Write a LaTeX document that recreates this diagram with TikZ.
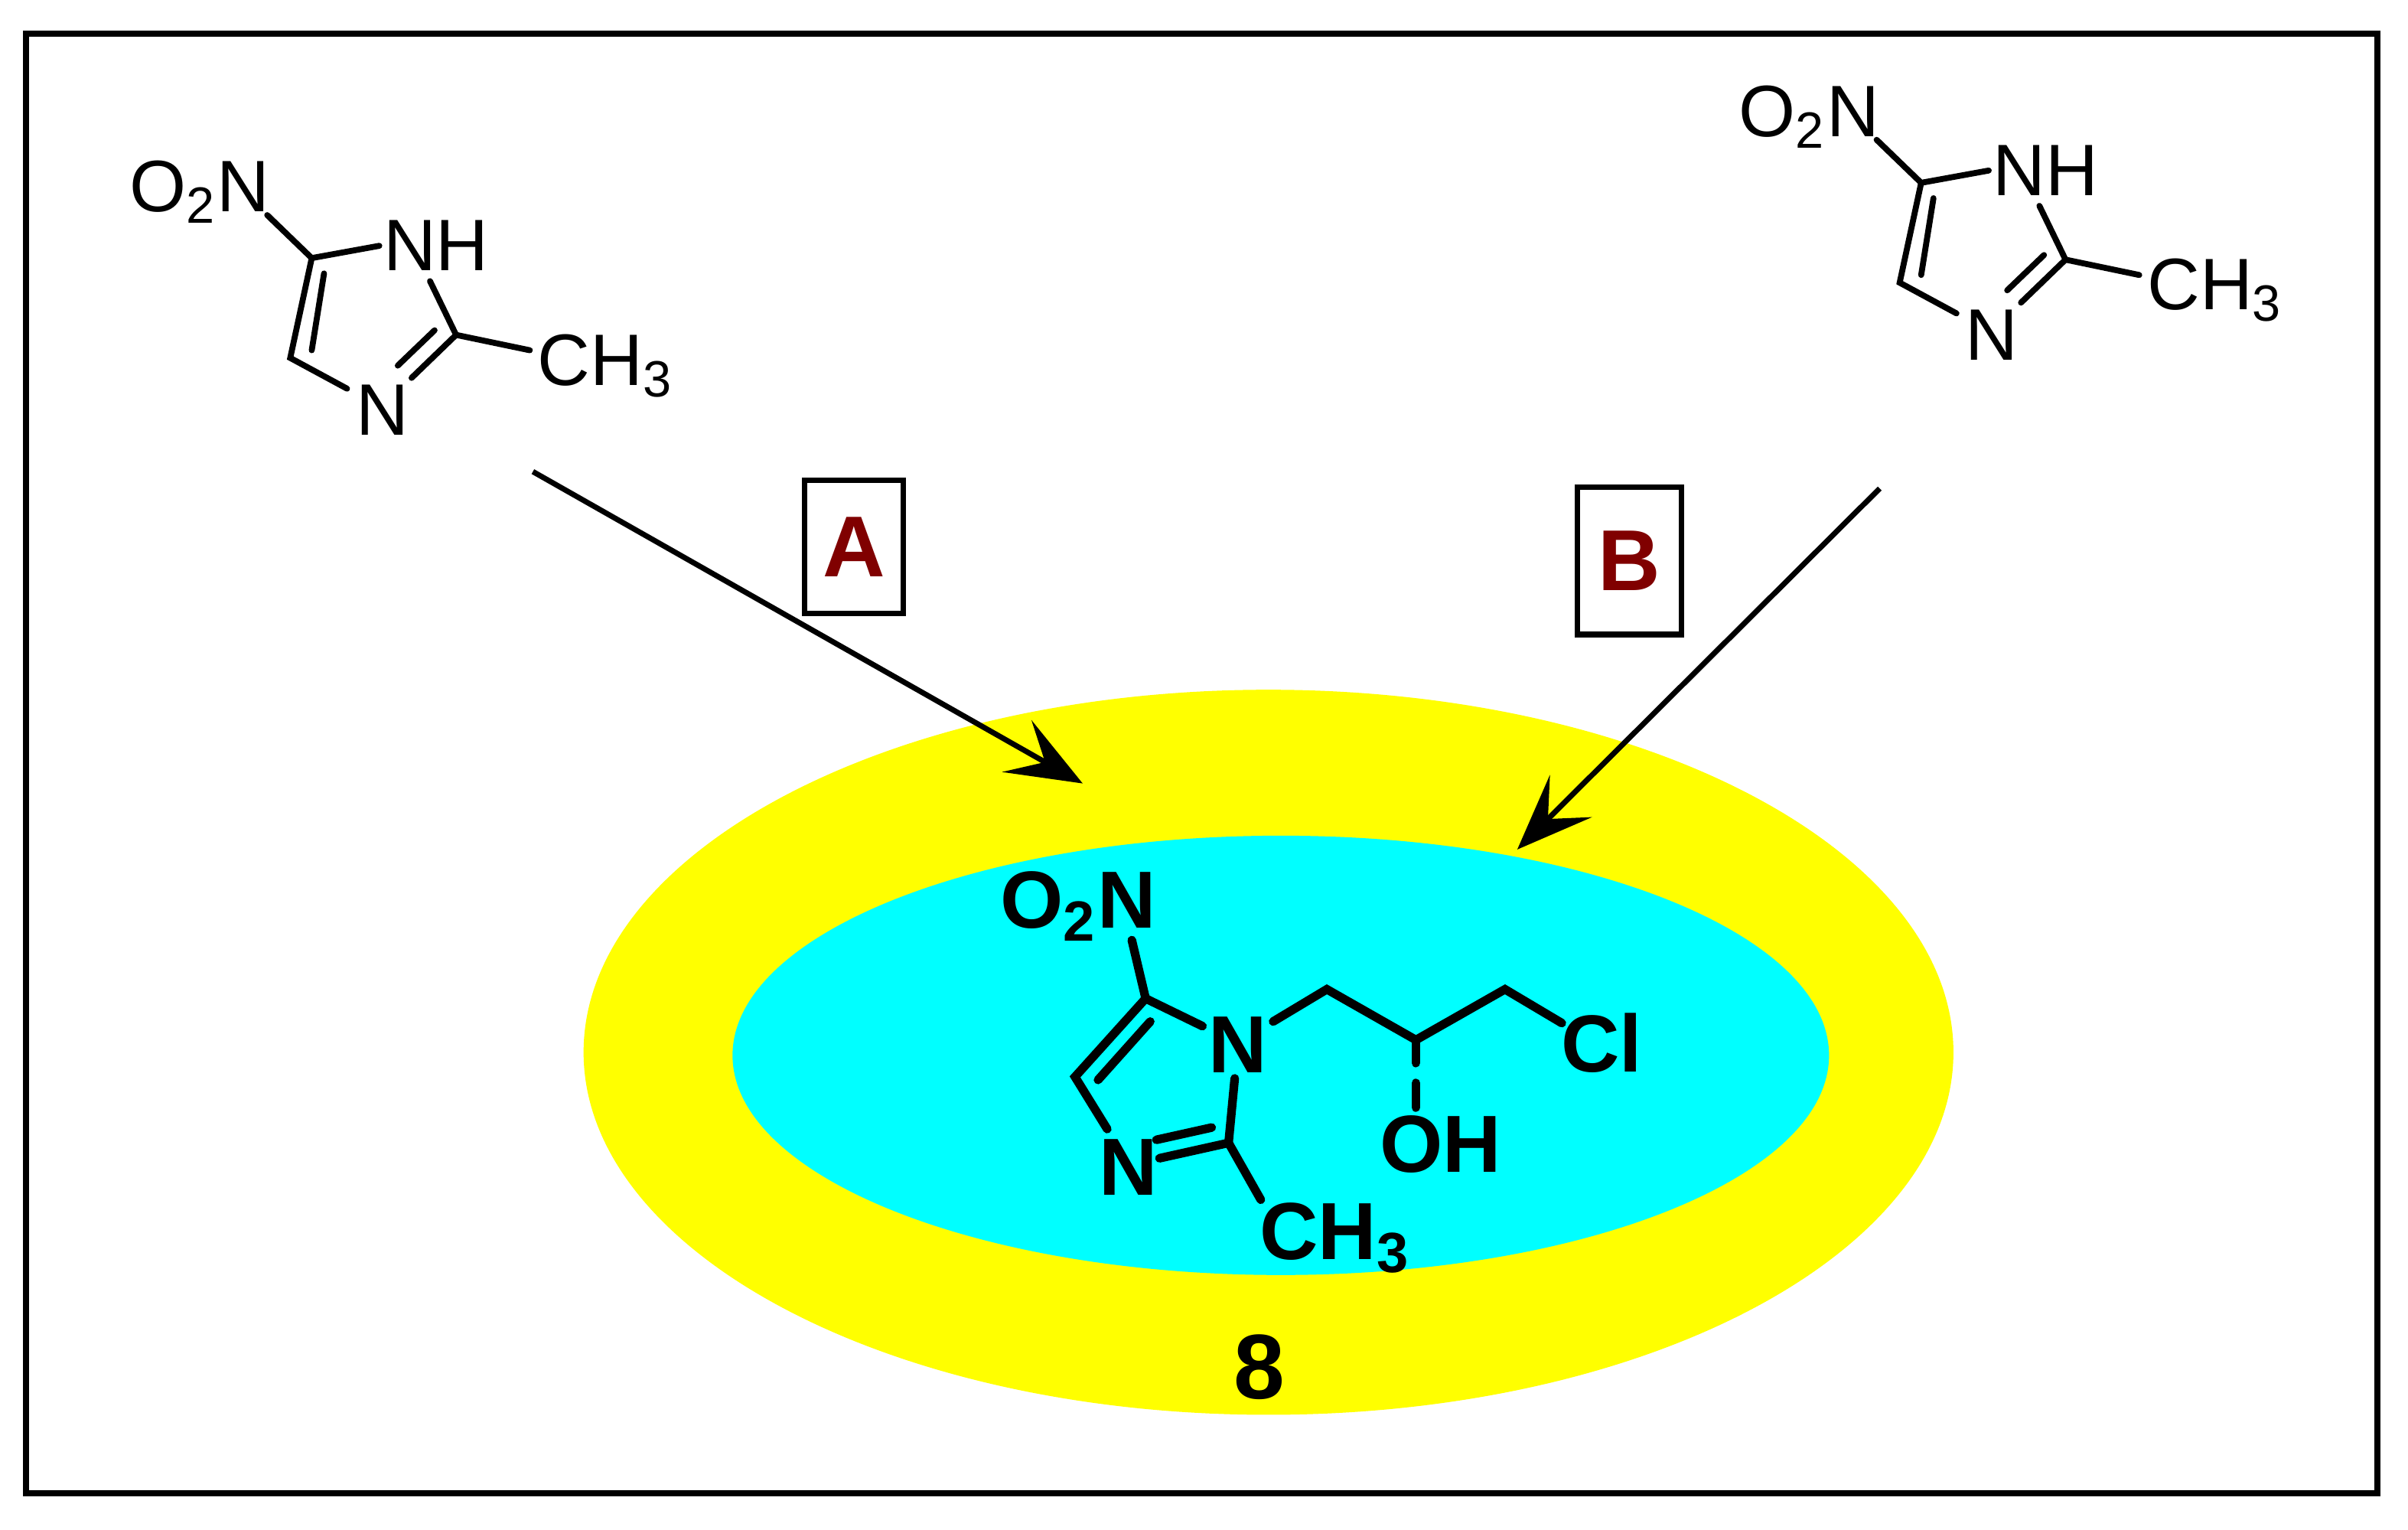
\documentclass[tikz,border=0pt]{standalone}
\usepackage{fontspec}
\setmainfont{Liberation Sans}
\usetikzlibrary{arrows.meta,calc}
\definecolor{ylw}{RGB}{255,255,0}
\definecolor{cyn}{RGB}{0,255,255}
\definecolor{dred}{RGB}{128,0,0}
\begin{document}
\begin{tikzpicture}[x=0.01cm,y=-0.01cm,
 atom/.style={inner sep=1pt,font=\fontsize{13.5}{14}\selectfont},
 batom/.style={inner sep=1pt,font=\fontsize{15}{15}\selectfont\bfseries},
 bond/.style={line width=1.1pt,line cap=round},
 bbond/.style={line width=1.6pt,line cap=round},
 rxn/.style={line width=1pt,-{Stealth[length=14pt,width=11pt,inset=6pt]}},
 lbl/.style={draw,line width=1pt,minimum width=0.5cm,minimum height=0.87cm,font=\fontsize{16}{16}\selectfont\bfseries,text=dred}]
\useasboundingbox (0,0) rectangle (1568,996);
\draw[line width=1.2pt] (17,22) rectangle (1548,972);
\fill[ylw] (826,685) ellipse [x radius=446, y radius=236];
\fill[cyn] (834,687) ellipse [x radius=357, y radius=143];
% reactant molecules
\foreach \sx/\sy/\p in {0/0/l,1048/-49/r}{
\begin{scope}[shift={(\sx,\sy)}]
\node[atom] (\p nh) at (284,160) {NH};
\node[atom] (\p n3) at (249,267) {N};
\node[atom] (\p o2n) at (130,125) {O\textsubscript{2}N};
\node[atom,anchor=west] (\p ch3) at (346,238) {CH\textsubscript{3}};
\coordinate (\p c5) at (203,168); \coordinate (\p c2) at (297,218); \coordinate (\p c4) at (189,233);
\draw[bond] (174,140) -- (\p c5) -- (247,160);
\draw[bond] (280,183) -- (\p c2) -- (268,246);
\draw[bond] (226,253) -- (\p c4) -- (\p c5);
\draw[bond] (211,178) -- (203,228);
\draw[bond] (283,215) -- (259,238);
\draw[bond] (\p c2) -- (345,228);
\end{scope}}
% arrows and labels
\coordinate (a1) at (347,307); \coordinate (a2) at (705,510);
\coordinate (b1) at (1224,318); \coordinate (b2) at (988,553);
\draw[rxn] (a1) -- (a2);
\draw[rxn] (b1) -- (b2);
\node[lbl] (la) at (556,356) {A};
\node[lbl,minimum width=0.68cm,minimum height=0.96cm] (lb) at (1061,365) {B};
% product
\node[batom] (n1) at (806,680) {N};
\node[batom] (pn3) at (735,760) {N};
\node[batom] (po2n) at (702,590) {O\textsubscript{2}N};
\node[batom,anchor=west] (pch3) at (816,806) {CH\textsubscript{3}};
\node[batom] (cl) at (1043,679) {Cl};
\node[batom] (oh) at (938,745) {OH};
\coordinate (p5) at (746,650); \coordinate (p4) at (700,701); \coordinate (p2) at (800,744);
\coordinate (k1) at (864,644); \coordinate (k2) at (922,677); \coordinate (k3) at (980,644);
\draw[bbond] (737,612) -- (p5) -- (783,668);
\draw[bbond] (p5) -- (p4) -- (721,735);
\draw[bbond] (749,665) -- (715,703);
\draw[bbond] (755,754) -- (p2) -- (804,702);
\draw[bbond] (753,742) -- (789,734);
\draw[bbond] (p2) -- (821,781);
\draw[bbond] (829,665) -- (k1) -- (k2) -- (k3) -- (1017,666);
\draw[bbond] (k2) -- (922,692);
\draw[bbond] (922,705) -- (922,721);
\node[batom,font=\fontsize{17}{17}\selectfont\bfseries] (eight) at (820,890) {8};
\end{tikzpicture}
\end{document}
